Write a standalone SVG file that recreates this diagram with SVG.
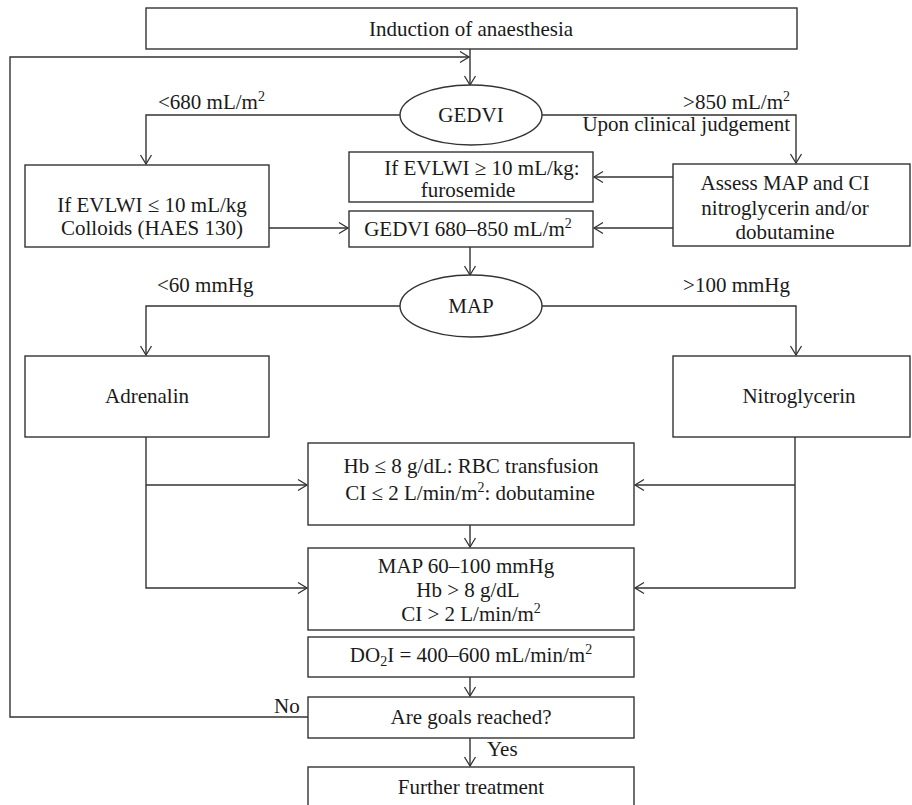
<svg xmlns="http://www.w3.org/2000/svg" width="912" height="805" viewBox="0 0 912 805">
<defs>
<marker id="arr" markerUnits="userSpaceOnUse" markerWidth="14" markerHeight="14" viewBox="-11 -7 12 14" refX="0" refY="0" orient="auto">
<path d="M-9,-5.5 L0,0 L-9,5.5" fill="none" stroke="#333" stroke-width="1.3"/>
</marker>
<style>
.box{fill:#fff;stroke:#333;stroke-width:1.4}
.t{font-family:"Liberation Serif","Times New Roman",serif;font-size:21px;fill:#1a1a1a}
.m{text-anchor:middle}
.e{text-anchor:end}
.c{fill:none;stroke:#333;stroke-width:1.4}
.a{marker-end:url(#arr)}
.sup{font-size:14px}
</style>
</defs>
<rect width="912" height="805" fill="#fff"/>
<g id="connectors">
<polyline class="c a" points="308,717 10,717 10,57 469,57"/>
<polyline class="c a" points="470,49 470,85"/>
<polyline class="c a" points="400,115 146,115 146,164"/>
<polyline class="c a" points="542,115 796,115 796,163"/>
<polyline class="c a" points="673,177 594,177"/>
<polyline class="c a" points="673,228 594,228"/>
<polyline class="c a" points="269,228 348,228"/>
<polyline class="c a" points="470,247 470,275"/>
<polyline class="c a" points="400,306 146,306 146,355"/>
<polyline class="c a" points="542,306 796,306 796,355"/>
<polyline class="c a" points="146,437 146,588 307,588"/>
<polyline class="c a" points="146,485 307,485"/>
<polyline class="c a" points="795,437 795,588 635,588"/>
<polyline class="c a" points="795,485 635,485"/>
<polyline class="c a" points="470,525 470,547"/>
<polyline class="c a" points="470,677 470,696"/>
<polyline class="c a" points="470,738 470,766"/>
</g>
<g id="n-induction"><rect class="box" x="146" y="8" width="651" height="41"/><text class="t m" x="471" y="36">Induction of anaesthesia</text></g>
<g id="n-gedvi"><ellipse class="box" cx="471" cy="115" rx="71" ry="30"/><text class="t m" x="471" y="122">GEDVI</text></g>
<g id="l-680"><text class="t" x="158" y="109">&lt;680 mL/m<tspan class="sup" dy="-8">2</tspan></text></g>
<g id="l-850"><text class="t e" x="790" y="109">&gt;850 mL/m<tspan class="sup" dy="-8">2</tspan></text><text class="t e" x="790" y="131">Upon clinical judgement</text></g>
<g id="n-colloids"><rect class="box" x="25" y="165" width="244" height="82"/><text class="t m" x="152" y="212">If EVLWI ≤ 10 mL/kg</text><text class="t m" x="152" y="235">Colloids (HAES 130)</text></g>
<g id="n-furosemide"><rect class="box" x="349" y="152" width="244" height="50"/><text class="t m" x="482" y="175">If EVLWI ≥ 10 mL/kg:</text><text class="t m" x="468" y="197">furosemide</text></g>
<g id="n-gedvi-range"><rect class="box" x="349" y="211" width="244" height="36"/><text class="t m" x="468" y="236">GEDVI 680–850 mL/m<tspan class="sup" dy="-8">2</tspan></text></g>
<g id="n-assess"><rect class="box" x="673" y="164" width="237" height="82"/><text class="t m" x="785" y="190">Assess MAP and CI</text><text class="t m" x="785" y="215">nitroglycerin and/or</text><text class="t m" x="785" y="239">dobutamine</text></g>
<g id="n-map"><ellipse class="box" cx="471" cy="306" rx="71" ry="31"/><text class="t m" x="471" y="313">MAP</text></g>
<g id="l-60"><text class="t" x="157" y="292">&lt;60 mmHg</text></g>
<g id="l-100"><text class="t e" x="790" y="292">&gt;100 mmHg</text></g>
<g id="n-adrenalin"><rect class="box" x="25" y="356" width="244" height="81"/><text class="t m" x="147" y="403">Adrenalin</text></g>
<g id="n-nitro"><rect class="box" x="673" y="356" width="237" height="81"/><text class="t m" x="799" y="403">Nitroglycerin</text></g>
<g id="n-hb"><rect class="box" x="308" y="443" width="326" height="82"/><text class="t m" x="471" y="473">Hb ≤ 8 g/dL: RBC transfusion</text><text class="t m" x="470" y="500">CI ≤ 2 L/min/m<tspan class="sup" dy="-8">2</tspan><tspan dy="8">: dobutamine</tspan></text></g>
<g id="n-targets"><rect class="box" x="308" y="548" width="326" height="82"/><text class="t m" x="466" y="573">MAP 60–100 mmHg</text><text class="t m" x="468" y="597">Hb &gt; 8 g/dL</text><text class="t m" x="471" y="621">CI &gt; 2 L/min/m<tspan class="sup" dy="-8">2</tspan></text></g>
<g id="n-do2i"><rect class="box" x="308" y="637" width="326" height="40"/><text class="t m" x="471" y="662">DO<tspan class="sup" dy="4">2</tspan><tspan dy="-4">I = 400–600 mL/min/m</tspan><tspan class="sup" dy="-8">2</tspan></text></g>
<g id="n-goals"><rect class="box" x="308" y="697" width="326" height="41"/><text class="t m" x="471" y="724">Are goals reached?</text></g>
<g id="l-no"><text class="t" x="274" y="713">No</text></g>
<g id="l-yes"><text class="t" x="487" y="756">Yes</text></g>
<g id="n-further"><rect class="box" x="308" y="767" width="326" height="50"/><text class="t m" x="471" y="794">Further treatment</text></g>
</svg>
